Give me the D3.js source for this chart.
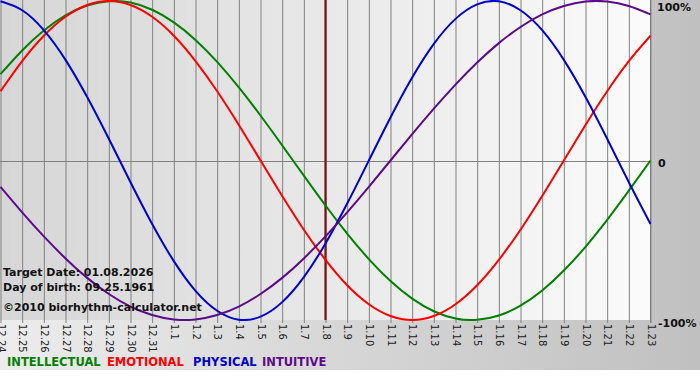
<!DOCTYPE html>
<html><head><meta charset="utf-8">
<script src="https://cdn.jsdelivr.net/npm/d3@7"></script>
<style>html,body{margin:0;padding:0;background:#fff;}svg{display:block;}</style>
</head><body>
<script>
const days = ["12.24","12.25","12.26","12.27","12.28","12.29","12.30","12.31","1.1","1.2","1.3","1.4","1.5","1.6","1.7","1.8","1.9","1.10","1.11","1.12","1.13","1.14","1.15","1.16","1.17","1.18","1.19","1.20","1.21","1.22","1.23"];
const physical = [0.998,0.942,0.817,0.631,0.398,0.136,-0.136,-0.398,-0.631,-0.817,-0.942,-0.998,-0.979,-0.888,-0.731,-0.520,-0.270,0.000,0.270,0.520,0.731,0.888,0.979,0.998,0.942,0.817,0.631,0.398,0.136,-0.136,-0.398];
const emotional = [0.434,0.623,0.782,0.901,0.975,1.000,0.975,0.901,0.782,0.623,0.434,0.223,0.000,-0.223,-0.434,-0.623,-0.782,-0.901,-0.975,-1.000,-0.975,-0.901,-0.782,-0.623,-0.434,-0.223,0.000,0.223,0.434,0.623,0.782];
const intellectual = [0.541,0.690,0.815,0.910,0.972,0.999,0.990,0.945,0.866,0.756,0.618,0.458,0.282,0.095,-0.095,-0.282,-0.458,-0.618,-0.756,-0.866,-0.945,-0.990,-0.999,-0.972,-0.910,-0.815,-0.690,-0.541,-0.372,-0.189,0.000];
const intuitive = [-0.165,-0.325,-0.476,-0.614,-0.736,-0.837,-0.916,-0.969,-0.997,-0.997,-0.969,-0.916,-0.837,-0.736,-0.614,-0.476,-0.325,-0.165,0.000,0.165,0.325,0.476,0.614,0.736,0.837,0.916,0.969,0.997,0.997,0.969,0.916];
const targetDay = "1.8";
const yTicks = [1, 0, -1];
const yTickLabels = ["100%", "0", "-100%"];
const infoLines = ["Target Date: 01.08.2026", "Day of birth: 09.25.1961", "©2010 biorhythm-calculator.net"];
const legendNames = ["INTELLECTUAL", "EMOTIONAL", "PHYSICAL", "INTUITIVE"];

const series = [
  {name:"INTELLECTUAL", values: intellectual, color:"#008000"},
  {name:"EMOTIONAL", values: emotional, color:"#ff0000"},
  {name:"PHYSICAL", values: physical, color:"#0000cc"},
  {name:"INTUITIVE", values: intuitive, color:"#5c0a8a"}
];
const legendColors = {"INTELLECTUAL":"#008000","EMOTIONAL":"#ff0000","PHYSICAL":"#0000cc","INTUITIVE":"#5c0a8a"};

const W = 700, H = 380;
const plot = {left:0, top:0, right:651, bottom:320};
const svg = d3.select("body").append("svg").attr("width", W).attr("height", H);
const defs = svg.append("defs");
const bg = defs.append("linearGradient").attr("id","bg").attr("x1","0").attr("x2","1").attr("y1","0").attr("y2","0");
bg.append("stop").attr("offset","0").attr("stop-color","#ececec");
bg.append("stop").attr("offset","1").attr("stop-color","#c0c0c0");
const pg = defs.append("linearGradient").attr("id","pg").attr("x1","0").attr("x2","1").attr("y1","0").attr("y2","0");
pg.append("stop").attr("offset","0").attr("stop-color","#d6d6d6");
pg.append("stop").attr("offset","1").attr("stop-color","#fbfbfb");

svg.append("rect").attr("x",0).attr("y",0).attr("width",W).attr("height",370).attr("fill","url(#bg)");
svg.append("rect").attr("x",plot.left).attr("y",plot.top).attr("width",plot.right-plot.left).attr("height",plot.bottom-plot.top).attr("fill","url(#pg)");

const x = d3.scalePoint().domain(days).range([0.5, 650.5]);
const y = d3.scaleLinear().domain([-1, 1]).range([plot.bottom, 1]);

// vertical grid + ticks
const xAxis = d3.axisBottom(x).tickSize(-(plot.bottom - plot.top)).tickPadding(0).tickFormat("");
const gx = svg.append("g").attr("transform", `translate(0,${plot.bottom})`).call(xAxis);
gx.select(".domain").remove();
gx.selectAll(".tick line").attr("stroke","#808080").attr("y2", -(plot.bottom-plot.top)).attr("y1", 3);
gx.selectAll(".tick").append("text")
  .attr("transform","translate(-3.5,4) rotate(90)")
  .attr("x",0).attr("y",0)
  .attr("text-anchor","start")
  .attr("fill","#222")
  .style("font","10px 'DejaVu Sans', Verdana, sans-serif")
  .text(d => d);

// zero line
svg.append("line").attr("x1",plot.left).attr("x2",plot.right).attr("y1",Math.round(y(0))+0.5).attr("y2",Math.round(y(0))+0.5).attr("stroke","#808080");
svg.append("line").attr("x1",plot.right-0.5).attr("x2",plot.right-0.5).attr("y1",plot.top).attr("y2",plot.bottom+3).attr("stroke","#808080");

// target line
svg.append("line").attr("x1",x(targetDay)).attr("x2",x(targetDay)).attr("y1",plot.top).attr("y2",plot.bottom).attr("stroke","#7a1010").attr("stroke-width",2.2);

// y labels
const yAxis = d3.axisRight(y).tickValues(yTicks).tickSize(0).tickPadding(0).tickFormat((d,i)=>yTickLabels[i]);
const gy = svg.append("g").attr("transform", `translate(${plot.right+6},0)`).call(yAxis);
gy.select(".domain").remove();
gy.selectAll("text").attr("fill","#111").style("font","bold 11px 'DejaVu Sans', Verdana, sans-serif");
gy.selectAll(".tick").filter(d=>d===1).select("text").attr("dy","9.5");
gy.selectAll(".tick").filter(d=>d===-1).select("text").attr("dy","6").attr("dx","1");
gy.selectAll(".tick").filter(d=>d===0).select("text").attr("dy","6").attr("dx","1");

// lines
const line = d3.line().x((d,i)=>x(days[i])).y(d=>y(d)).curve(d3.curveNatural);
defs.append("clipPath").attr("id","clip").append("rect").attr("x",0).attr("y",0).attr("width",plot.right).attr("height",plot.bottom+1);
const gl = svg.append("g").attr("clip-path","url(#clip)");
series.forEach(s => {
  gl.append("path").attr("d", line(s.values)).attr("fill","none").attr("stroke", s.color).attr("stroke-width", 2);
});

// info text
const infoY = [276, 291, 311];
infoLines.forEach((t,i)=>{
  svg.append("text").attr("x",3).attr("y",infoY[i]).attr("fill","#111")
    .style("font","bold 11px 'DejaVu Sans', Verdana, sans-serif").text(t);
});

// legend
const legendX = [7, 107, 193, 262];
legendNames.forEach((n,i)=>{
  svg.append("text").attr("x",legendX[i]).attr("y",366).attr("fill",legendColors[n])
    .style("font","bold 11.5px 'DejaVu Sans', Verdana, sans-serif").text(n);
});
</script>
</body></html>
